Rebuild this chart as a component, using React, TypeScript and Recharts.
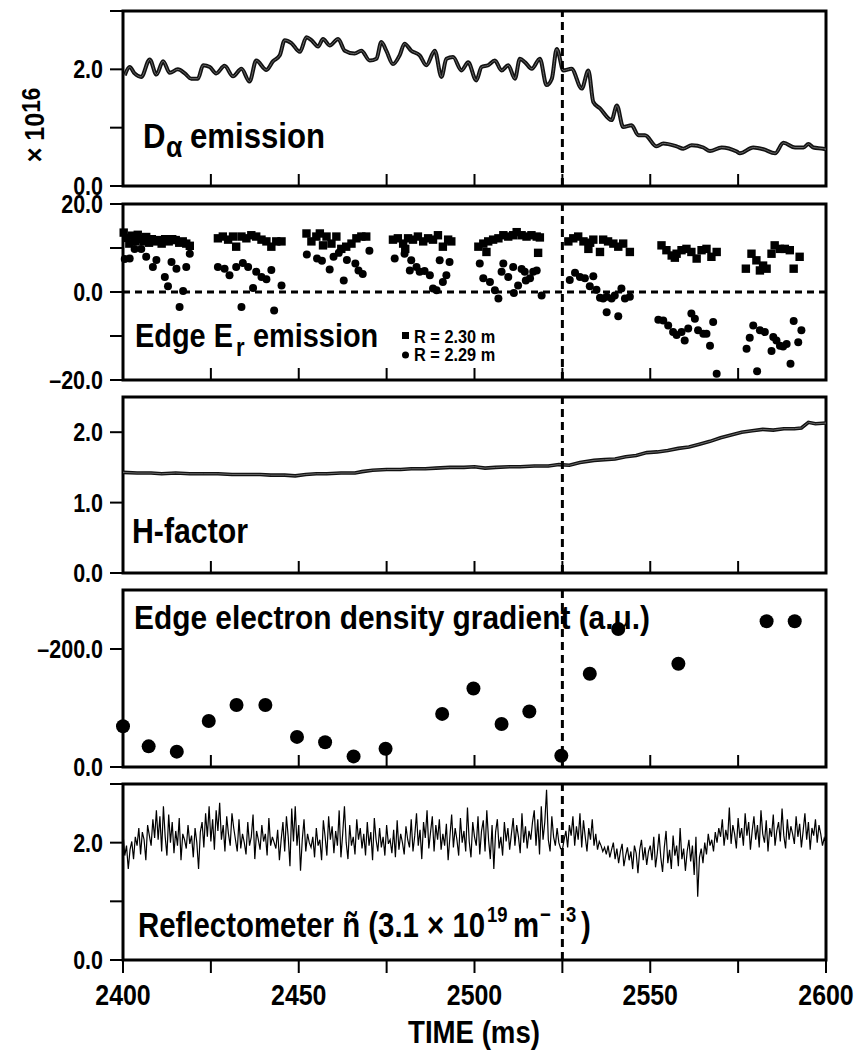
import React from 'react';
import {
  LineChart, Line, ScatterChart, Scatter, XAxis, YAxis, ReferenceLine, ReferenceArea,
} from 'recharts';

const FONT = "'Liberation Sans', Arial, sans-serif";
const CHART_W = 859;
const PAD = 16;
const PLOT_LEFT = 123;
const PLOT_RIGHT = 826;

const X_DOMAIN: [number, number] = [2400, 2600];
const X_INNER_TICKS = [2425, 2450, 2475, 2500, 2525, 2550, 2575];
const X_BOTTOM_TICKS = [2400, 2425, 2450, 2475, 2500, 2525, 2550, 2575, 2600];
const X_LABELLED = [2400, 2450, 2500, 2550, 2600];
const TRANSITION_TIME = 2525;

// D-alpha emission (x 1e16)
const DA_TIME = [
  2400.5, 2401.9, 2403.3, 2405.2, 2407.6, 2409.5, 2411.4, 2413.3, 2415.6, 2417.6,
  2419.4, 2421.3, 2422.8, 2424.7, 2426.5, 2428.9, 2431.3, 2433.7, 2436.0, 2437.9,
  2440.8, 2442.7, 2444.6, 2446.0, 2447.9, 2450.3, 2452.2, 2453.6, 2455.5, 2456.9,
  2458.8, 2461.2, 2463.1, 2465.9, 2467.8, 2470.2, 2472.1, 2473.5, 2474.9, 2476.8,
  2478.7, 2480.1, 2482.0, 2484.4, 2486.3, 2488.7, 2490.6, 2492.0, 2493.9, 2496.3,
  2498.2, 2500.5, 2502.0, 2503.9, 2505.8, 2507.7, 2509.6, 2511.5, 2512.9, 2514.4,
  2516.3, 2518.6, 2520.5, 2522.0, 2523.4, 2525.3, 2527.6, 2530.5, 2532.4, 2533.8,
  2535.7, 2539.0, 2540.5, 2542.3, 2544.7, 2546.6, 2548.5, 2551.8, 2553.7, 2557.5,
  2559.4, 2561.8, 2565.1, 2567.0, 2570.3, 2574.6, 2575.5, 2579.3, 2582.2, 2585.5,
  2587.9, 2591.2, 2593.6, 2595.0, 2596.4, 2599.2, 2600.0,
];
const DA_VALUE = [
  1.90, 2.04, 1.93, 1.87, 2.17, 1.91, 2.14, 1.94, 2.00, 1.93,
  1.84, 1.84, 2.07, 2.04, 1.93, 2.06, 1.88, 2.01, 1.79, 2.15,
  1.99, 2.14, 2.24, 2.50, 2.45, 2.30, 2.55, 2.50, 2.39, 2.52,
  2.41, 2.52, 2.32, 2.27, 2.32, 2.15, 2.18, 2.47, 2.32, 2.09,
  2.24, 2.44, 2.32, 2.24, 2.07, 2.32, 1.87, 2.18, 2.21, 1.98,
  2.12, 1.81, 2.04, 2.07, 2.15, 1.98, 2.07, 1.84, 2.18, 2.12,
  2.01, 2.18, 1.73, 1.84, 2.35, 1.98, 2.01, 1.67, 1.98, 1.44,
  1.33, 1.13, 1.38, 1.01, 1.04, 0.87, 0.87, 0.68, 0.73, 0.68,
  0.64, 0.70, 0.66, 0.60, 0.66, 0.59, 0.56, 0.66, 0.63, 0.56,
  0.74, 0.66, 0.66, 0.72, 0.66, 0.64, 0.63,
];

// Edge Er, R = 2.30 m (squares)
const ER_SQ_TIME = [
  2400.2, 2401.0, 2401.8, 2402.6, 2403.4, 2404.2, 2405.0, 2405.8, 2406.6, 2407.4, 2408.2,
  2409.0, 2410.0, 2411.0, 2412.0, 2413.0, 2414.0, 2415.0, 2416.0, 2417.0, 2418.0, 2419.0,
  2427.0, 2428.4, 2429.9, 2431.3, 2432.2, 2433.7, 2435.1, 2436.5, 2437.9, 2439.4, 2440.8,
  2442.2, 2443.6, 2445.1,
  2452.2, 2453.6, 2455.0, 2456.0, 2456.9, 2457.9, 2459.3, 2460.7, 2462.1, 2463.5, 2465.0,
  2466.4, 2467.8, 2469.2,
  2476.8, 2478.2, 2479.7, 2480.3, 2481.1, 2482.5, 2483.9, 2485.4, 2486.8, 2488.2, 2489.6,
  2491.0, 2492.5, 2493.4,
  2501.1, 2502.5, 2503.4, 2503.9, 2505.3, 2506.8, 2508.2, 2509.6, 2511.0, 2512.0, 2513.4,
  2514.8, 2516.2, 2517.7, 2518.1, 2518.6,
  2526.7, 2528.1, 2529.5, 2531.0, 2532.4, 2532.9, 2533.8, 2535.7, 2536.6, 2538.0, 2539.5,
  2540.9, 2542.3, 2544.2,
  2553.2, 2554.6, 2556.1, 2557.0, 2557.5, 2558.9, 2560.3, 2561.7, 2563.2, 2564.6, 2566.0,
  2567.4, 2568.9,
  2577.2, 2578.8, 2580.2, 2581.2, 2582.1, 2583.1, 2584.5, 2585.4, 2586.9, 2588.3, 2589.7,
  2590.8, 2592.5,
];
const ER_SQ_VALUE = [
  13.5, 12.3, 11.0, 12.8, 11.5, 13.0, 12.0, 11.5, 12.5, 11.2, 12.0,
  11.5, 11.8, 11.0, 12.0, 11.5, 12.0, 11.8, 11.2, 11.5, 11.0, 10.5,
  12.2, 12.6, 11.9, 12.6, 10.3, 12.6, 12.2, 12.9, 12.6, 11.9, 11.5,
  10.3, 11.5, 11.5,
  13.3, 11.5, 12.6, 13.3, 10.6, 12.6, 11.0, 12.6, 9.8, 10.3, 11.0,
  12.2, 12.6, 12.6,
  11.9, 12.2, 11.0, 9.8, 12.2, 11.9, 12.6, 11.5, 12.2, 11.9, 12.9,
  10.3, 11.9, 11.5,
  10.3, 11.0, 9.1, 11.5, 11.9, 12.2, 12.9, 12.6, 12.9, 13.6, 12.9,
  12.6, 12.9, 12.6, 8.9, 12.4,
  11.5, 12.2, 12.6, 11.5, 9.8, 11.2, 11.9, 9.1, 11.9, 11.5, 11.0,
  10.3, 11.0, 9.1,
  10.6, 9.5, 8.3, 7.8, 8.7, 9.5, 9.8, 9.1, 7.6, 9.5, 9.8,
  8.0, 9.1,
  5.3, 8.7, 7.2, 4.9, 6.0, 5.3, 8.7, 10.6, 9.8, 9.8, 9.5,
  5.3, 8.0,
];

// Edge Er, R = 2.29 m (circles)
const ER_CI_TIME = [
  2400.5, 2401.9, 2403.3, 2405.2, 2406.6, 2408.5, 2409.5, 2411.9, 2412.8, 2413.8, 2415.2,
  2416.1, 2417.1, 2418.0, 2419.0,
  2427.0, 2428.9, 2430.3, 2432.2, 2433.7, 2434.1, 2435.6, 2437.0, 2437.9, 2439.4, 2440.8,
  2442.2, 2443.0, 2445.1,
  2452.3, 2455.2, 2456.6, 2458.8, 2459.9, 2461.4, 2462.8, 2463.7, 2466.1, 2467.0, 2468.2,
  2470.1,
  2477.3, 2480.1, 2481.6, 2482.0, 2483.5, 2484.4, 2485.8, 2487.3, 2488.2, 2489.2, 2490.1,
  2491.0, 2492.0, 2492.9,
  2501.5, 2502.5, 2504.4, 2505.8, 2506.8, 2507.7, 2508.2, 2509.6, 2511.0, 2511.2, 2512.4,
  2513.4, 2514.3, 2514.6, 2515.8, 2516.7, 2517.7, 2519.1,
  2527.1, 2528.6, 2530.0, 2531.4, 2532.8, 2533.8, 2534.7, 2535.7, 2536.6, 2537.6, 2539.0,
  2539.9, 2541.8, 2542.8, 2544.2, 2537.6, 2540.9,
  2552.3, 2553.7, 2555.1, 2556.5, 2557.5, 2558.9, 2559.8, 2560.8, 2561.7, 2562.7, 2563.6,
  2565.1, 2566.0, 2567.0, 2567.9, 2568.9,
  2577.4, 2578.3, 2579.3, 2580.4, 2581.2, 2582.6, 2584.5, 2585.0, 2585.9, 2586.9, 2587.8,
  2588.8, 2589.9, 2590.8, 2592.1, 2593.0,
];
const ER_CI_VALUE = [
  7.5, 7.6, 9.8, 9.8, 8.0, 5.7, 7.3, 3.4, 1.3, 6.8, 5.3,
  -3.4, 0.2, 5.7, 8.7,
  5.7, 5.3, 3.8, 5.7, -3.4, 6.6, 5.7, 0.9, 4.6, 3.4, 2.9,
  5.0, -4.2, 1.5,
  8.5, 7.6, 7.1, 5.1, 8.0, 8.9, 2.6, 7.3, 6.5, 4.9, 4.1,
  9.4,
  7.6, 8.7, 4.9, 7.2, 5.7, 4.6, 4.8, 3.8, 0.8, 0.4, 7.2,
  2.3, 3.8, 6.8,
  6.5, 3.1, 2.3, 0.4, -1.5, 4.6, 6.5, 3.4, 5.7, -0.2, 1.5,
  5.2, 4.6, 2.6, 3.1, 4.6, 4.9, -0.8,
  2.7, 4.4, 3.4, 3.1, 1.3, 3.6, 0.5, -1.3, -1.5, -1.1, -1.5,
  -0.8, 0.8, -1.5, -1.1, -4.6, -5.5,
  -6.3, -6.5, -7.6, -9.1, -9.8, -9.1, -11.0, -8.3, -4.9, -6.1, -8.7,
  -9.5, -9.5, -12.2, -6.8, -18.6,
  -12.9, -10.4, -7.6, -18.0, -8.7, -9.1, -13.4, -10.2, -11.0, -12.2, -12.4,
  -11.8, -16.3, -6.6, -11.4, -8.7,
];

// H-factor
const H_TIME = [
  2400, 2404, 2408, 2411, 2415, 2419, 2423, 2427, 2431, 2435, 2439, 2442, 2446, 2449,
  2452, 2455, 2458, 2462, 2466, 2468, 2471, 2475, 2479, 2482, 2486, 2489, 2493, 2497,
  2500, 2503, 2506, 2510, 2513, 2517, 2521, 2524, 2527, 2530, 2534, 2537, 2540, 2543,
  2546, 2549, 2552, 2555, 2558, 2561, 2564, 2567, 2570, 2573, 2576, 2579, 2582, 2585,
  2588, 2591, 2593, 2595, 2597, 2600,
];
const H_VALUE = [
  1.43, 1.42, 1.42, 1.41, 1.42, 1.41, 1.41, 1.41, 1.40, 1.40, 1.40, 1.39, 1.39, 1.38,
  1.40, 1.41, 1.41, 1.42, 1.42, 1.44, 1.46, 1.47, 1.47, 1.48, 1.48, 1.49, 1.50, 1.50,
  1.51, 1.49, 1.50, 1.51, 1.51, 1.52, 1.52, 1.54, 1.53, 1.57, 1.60, 1.61, 1.62, 1.65,
  1.67, 1.71, 1.72, 1.74, 1.77, 1.79, 1.83, 1.87, 1.92, 1.96, 2.00, 2.02, 2.04, 2.03,
  2.05, 2.05, 2.06, 2.14, 2.12, 2.13,
];

// Edge electron density gradient (a.u.)
const GRAD_TIME = [
  2400.0, 2407.3, 2415.3, 2424.4, 2432.3, 2440.5, 2449.5, 2457.5, 2465.6, 2474.7,
  2490.8, 2499.7, 2507.7, 2515.6, 2524.7, 2532.8, 2540.9, 2558.0, 2583.1, 2591.1,
];
const GRAD_VALUE = [
  -69, -35, -26, -78, -105, -105, -51, -42, -18, -31,
  -90, -133, -73, -94, -19, -158, -234, -175, -247, -247,
];

// Reflectometer n~ (3.1e19 m^-3), sampled every 0.5 ms from 2400 ms
const REFL_START = 2400;
const REFL_STEP = 0.5;
const REFL_VALUE = [
  2.15, 1.78, 1.95, 1.55, 1.88, 2.02, 1.72, 2.10, 1.95, 2.25, 1.80, 2.18, 2.05, 1.70, 2.30, 2.12, 1.95, 2.40, 2.08, 2.55,
  2.05, 2.45, 1.85, 2.62, 2.10, 1.78, 2.48, 2.00, 2.35, 1.82, 2.20, 1.95, 2.42, 1.70, 2.15, 2.05, 1.90, 2.30, 1.98, 2.12,
  1.75, 2.25, 2.00, 1.55, 2.18, 2.35, 1.92, 2.50, 2.10, 2.62, 2.02, 2.40, 1.88, 2.55, 2.20, 2.68, 2.05, 2.30, 1.85, 2.45,
  2.15, 1.95, 2.50, 2.25, 2.05, 1.85, 2.40, 1.90, 2.15, 2.00, 1.80, 2.35, 1.95, 2.10, 2.48, 1.72, 2.20, 2.05, 1.88, 2.30,
  2.02, 2.15, 1.78, 2.42, 1.95, 2.10, 2.00, 1.90, 2.22, 1.70, 2.05, 2.35, 1.85, 2.45, 2.10, 1.60, 2.58, 2.02, 2.62, 1.95,
  2.30, 1.52, 2.05, 2.40, 1.85, 2.15, 2.00, 1.92, 2.10, 1.75, 2.25, 1.95, 2.05, 1.70, 2.38, 2.10, 1.78, 2.45, 2.05, 2.28,
  1.82, 2.20, 1.95, 2.55, 1.75, 2.15, 2.62, 2.00, 1.72, 2.30, 1.95, 2.10, 1.80, 2.40, 2.05, 2.25, 1.90, 2.15, 1.78, 2.35,
  1.95, 2.18, 1.70, 2.42, 2.05, 1.85, 2.25, 1.92, 2.10, 1.78, 2.30, 1.98, 2.05, 1.82, 2.22, 1.75, 2.38, 1.88, 2.15, 2.00,
  1.80, 2.28, 2.05, 1.92, 2.40, 1.85, 2.12, 2.50, 1.95, 2.22, 1.72, 2.35, 2.08, 2.55, 1.90, 2.18, 2.45, 1.85, 2.30, 2.05,
  2.40, 1.88, 2.15, 1.95, 2.32, 1.70, 2.10, 2.48, 1.92, 2.25, 2.05, 1.78, 2.42, 2.00, 2.20, 1.85, 2.60, 2.02, 1.75, 2.35,
  2.10, 1.95, 2.45, 1.80, 2.20, 2.38, 1.85, 2.55, 2.05, 1.72, 2.30, 1.55, 2.18, 2.40, 1.90, 2.10, 1.78, 2.35, 2.02, 2.25,
  1.88, 2.15, 2.42, 1.95, 2.30, 2.10, 1.82, 2.50, 2.00, 2.28, 1.90, 2.20, 2.05, 2.35, 2.55, 1.95, 2.40, 1.80, 2.62, 2.05,
  2.35, 2.90, 2.05, 1.85, 2.45, 2.10, 1.95, 2.25, 2.00, 1.90, 1.88, 2.05, 2.20, 1.92, 2.30, 2.12, 2.45, 1.95, 2.28, 2.05,
  2.50, 1.92, 2.38, 2.10, 1.85, 2.25, 2.05, 2.40, 1.95, 2.15, 1.88, 2.02, 1.95, 1.85, 1.92, 1.80, 1.95, 1.75, 1.88, 2.00,
  1.72, 1.90, 1.65, 1.85, 1.98, 1.60, 1.78, 1.92, 1.70, 1.85, 1.55, 1.95, 1.82, 1.48, 1.88, 2.05, 1.70, 1.92, 1.62, 1.85,
  1.95, 1.70, 2.10, 1.58, 1.82, 2.15, 1.75, 1.50, 1.92, 2.20, 1.65, 1.88, 1.55, 2.12, 1.78, 1.95, 1.60, 2.25, 1.72, 1.90,
  1.52, 1.85, 2.05, 1.68, 1.95, 1.45, 2.10, 1.08, 1.75, 1.90, 1.65, 2.00, 1.80, 2.15, 1.95, 2.05, 1.85, 2.18, 2.00, 2.25,
  2.10, 2.40, 1.95, 2.22, 2.05, 2.60, 1.98, 2.30, 2.15, 1.90, 2.42, 2.08, 2.25, 1.95, 2.50, 2.12, 2.35, 1.88, 2.20, 2.45,
  2.05, 2.30, 1.92, 2.55, 2.15, 2.00, 2.38, 1.85, 2.25, 2.10, 2.48, 1.95, 2.20, 2.35, 2.02, 2.58, 2.12, 1.90, 2.40, 2.05,
  2.28, 2.15, 1.98, 2.45, 2.10, 2.32, 1.92, 2.20, 2.50, 2.05, 2.35, 1.88, 2.25, 2.12, 2.40, 2.00, 2.30, 2.15, 1.95, 2.08,
  2.00,
];

const zip = (ts: number[], vs: number[]) => ts.map((t, i) => ({ t, v: vs[i] }));
const daData = zip(DA_TIME, DA_VALUE);
const erSqData = zip(ER_SQ_TIME, ER_SQ_VALUE);
const erCiData = zip(ER_CI_TIME, ER_CI_VALUE);
const hData = zip(H_TIME, H_VALUE);
const gradData = zip(GRAD_TIME, GRAD_VALUE);
const reflData = REFL_VALUE.map((v, i) => ({ t: REFL_START + i * REFL_STEP, v }));

const textStyle = { fontFamily: FONT, fontWeight: 700, fill: '#000' } as const;

// condensed bold label (the original uses a narrow face)
function Narrow({ x, y, size, anchor, children }: { x: number; y: number; size: number; anchor: 'start' | 'middle' | 'end'; children: React.ReactNode }) {
  return (
    <text transform={`translate(${x} ${y}) scale(0.86 1)`} x={0} y={0} fontSize={size} textAnchor={anchor} style={textStyle}>
      {children}
    </text>
  );
}

// one condensed text made of pieces placed at page positions (for sub/superscripts)
type Piece = { x: number; y: number; size: number; s: string };
function Composite({ pieces, squeeze }: { pieces: Piece[]; squeeze: number }) {
  return (
    <text transform={`scale(${squeeze} 1)`} style={textStyle}>
      {pieces.map((p, i) => (
        <tspan key={i} x={p.x / squeeze} y={p.y} fontSize={p.size}>{p.s}</tspan>
      ))}
    </text>
  );
}

// y ticks: outward tick line plus label
const yTick = (labels: Record<string, string>) => (props: any) => {
  const { y, payload } = props;
  const label = labels[String(payload.value)];
  return (
    <g>
      <line x1={PLOT_LEFT - 13} x2={PLOT_LEFT} y1={y} y2={y} stroke="#000" strokeWidth={2} />
      {label ? <Narrow x={PLOT_LEFT - 20} y={y + 9} size={25} anchor="end">{label}</Narrow> : null}
    </g>
  );
};

// inner x ticks: short marks pointing up from the bottom frame
const innerTick = (plotBottom: number) => (props: any) => (
  <line x1={props.x} x2={props.x} y1={plotBottom} y2={plotBottom - 12} stroke="#000" strokeWidth={2} />
);

// bottom panel x ticks: outward marks and labels every 50 ms
const bottomTick = (plotBottom: number) => (props: any) => {
  const { x, payload } = props;
  return (
    <g>
      <line x1={x} x2={x} y1={plotBottom} y2={plotBottom + 13} stroke="#000" strokeWidth={2} />
      {X_LABELLED.includes(payload.value) ? (
        <Narrow x={x} y={plotBottom + 45} size={29} anchor="middle">{String(payload.value)}</Narrow>
      ) : null}
    </g>
  );
};

function yAxis(domain: [number, number], ticks: number[], labels: Record<string, string>, reversed = false) {
  return (
    <YAxis
      key="y"
      type="number"
      dataKey="v"
      domain={domain}
      ticks={ticks}
      interval={0}
      reversed={reversed}
      width={PLOT_LEFT}
      axisLine={false}
      tickLine={false}
      tick={yTick(labels)}
    />
  );
}

function innerXAxis(plotH: number) {
  return (
    <XAxis
      key="x"
      type="number"
      dataKey="t"
      domain={X_DOMAIN}
      ticks={X_INNER_TICKS}
      interval={0}
      height={PAD}
      axisLine={false}
      tickLine={false}
      tick={innerTick(PAD + plotH)}
    />
  );
}

function frame(y: [number, number]) {
  return [
    <ReferenceLine key="lh" x={TRANSITION_TIME} stroke="#000" strokeWidth={3} strokeDasharray="8 5" />,
    <ReferenceArea key="box" x1={X_DOMAIN[0]} x2={X_DOMAIN[1]} y1={y[0]} y2={y[1]} fill="none" fillOpacity={0} stroke="#000" strokeWidth={3} />,
  ];
}

// thick trace drawn as a dark outline with a grey core, like the printed original
function thickTrace(width: number, type: 'monotone' | 'linear') {
  return [
    <Line key="outer" type={type} dataKey="v" stroke="#111" strokeWidth={width} dot={false} activeDot={false} isAnimationActive={false} />,
    <Line key="core" type={type} dataKey="v" stroke="#6a6a6a" strokeWidth={1} dot={false} activeDot={false} isAnimationActive={false} />,
  ];
}

const squareShape = (p: any) => <rect x={p.cx - 4.2} y={p.cy - 4.2} width={8.4} height={8.4} fill="#000" />;
const circleShape = (p: any) => <circle cx={p.cx} cy={p.cy} r={4} fill="#000" />;
const bigDot = (p: any) => <circle cx={p.cx} cy={p.cy} r={7} fill="#000" />;

function Holder({ top, children }: { top: number; children: React.ReactNode }) {
  return <div style={{ position: 'absolute', left: 0, top: top - PAD }}>{children}</div>;
}

const margin = { top: PAD, right: CHART_W - PLOT_RIGHT, bottom: 0, left: 0 };

export default function App() {
  return (
    <div style={{ position: 'absolute', left: 0, top: 0, width: 859, height: 1053, background: '#fff', overflow: 'hidden' }}>
      {/* D-alpha */}
      <Holder top={11}>
        <LineChart width={CHART_W} height={175 + 2 * PAD} data={daData} margin={margin}>
          {innerXAxis(175)}
          {yAxis([0, 3], [0, 1, 2, 3], { '0': '0.0', '2': '2.0' })}
          {thickTrace(4, 'monotone')}
          {frame([0, 3])}
        </LineChart>
      </Holder>

      {/* Edge Er */}
      <Holder top={204}>
        <ScatterChart width={CHART_W} height={176 + 2 * PAD} margin={margin}>
          {innerXAxis(176)}
          {yAxis([-20, 20], [-20, -10, 0, 10, 20], { '-20': '\u201320.0', '0': '0.0', '20': '20.0' })}
          <ReferenceLine y={0} stroke="#000" strokeWidth={3} strokeDasharray="7 5" />
          <Scatter data={erSqData} shape={squareShape} isAnimationActive={false} />
          <Scatter data={erCiData} shape={circleShape} isAnimationActive={false} />
          {frame([-20, 20])}
        </ScatterChart>
      </Holder>

      {/* H-factor */}
      <Holder top={397}>
        <LineChart width={CHART_W} height={176 + 2 * PAD} data={hData} margin={margin}>
          {innerXAxis(176)}
          {yAxis([0, 2.5], [0, 1, 2], { '0': '0.0', '1': '1.0', '2': '2.0' })}
          {thickTrace(3.6, 'linear')}
          {frame([0, 2.5])}
        </LineChart>
      </Holder>

      {/* density gradient */}
      <Holder top={590}>
        <ScatterChart width={CHART_W} height={177 + 2 * PAD} margin={margin}>
          {innerXAxis(177)}
          {yAxis([-300, 0], [-200, 0], { '-200': '\u2013200.0', '0': '0.0' }, true)}
          <Scatter data={gradData} shape={bigDot} isAnimationActive={false} />
          {frame([-300, 0])}
        </ScatterChart>
      </Holder>

      {/* reflectometer */}
      <Holder top={784}>
        <LineChart width={CHART_W} height={176 + PAD + 64} data={reflData} margin={margin}>
          <XAxis
            type="number"
            dataKey="t"
            domain={X_DOMAIN}
            ticks={X_BOTTOM_TICKS}
            interval={0}
            height={64}
            axisLine={false}
            tickLine={false}
            tick={bottomTick(PAD + 176)}
          />
          {yAxis([0, 3], [0, 1, 2, 3], { '0': '0.0', '2': '2.0' })}
          <Line type="linear" dataKey="v" stroke="#000" strokeWidth={1.2} dot={false} activeDot={false} isAnimationActive={false} />
          {frame([0, 3])}
        </LineChart>
      </Holder>

      {/* panel titles and annotations */}
      <svg width={859} height={1053} style={{ position: 'absolute', left: 0, top: 0, pointerEvents: 'none' }}>
        <text transform="rotate(-90, 34, 125) translate(34 135) scale(0.9 1)" x={0} y={0} textAnchor="middle" fontSize={28} style={textStyle}>
          {'\u00d7 10'}
          <tspan dy={-4} fontSize={25}>16</tspan>
        </text>

        <Composite squeeze={0.89} pieces={[
          { x: 143, y: 148, size: 35, s: 'D' },
          { x: 166, y: 157, size: 30, s: '\u03b1' },
          { x: 190, y: 148, size: 35, s: 'emission' },
        ]} />

        <Composite squeeze={0.85} pieces={[
          { x: 135, y: 347, size: 34, s: 'Edge E' },
          { x: 236, y: 356, size: 26, s: 'r' },
          { x: 253, y: 347, size: 34, s: 'emission' },
        ]} />

        <rect x={402} y={332} width={7} height={7} fill="#000" />
        <circle cx={405.5} cy={355} r={3.5} fill="#000" />
        <Composite squeeze={0.86} pieces={[
          { x: 414, y: 343, size: 19, s: 'R = 2.30 m' },
          { x: 414, y: 361, size: 19, s: 'R = 2.29 m' },
        ]} />

        <text x={132} y={543} fontSize={35} textLength={116} lengthAdjust="spacingAndGlyphs" style={textStyle}>H-factor</text>

        <text x={134} y={629} fontSize={34} textLength={516} lengthAdjust="spacingAndGlyphs" style={textStyle}>
          Edge electron density gradient (a.u.)
        </text>

        <Composite squeeze={0.84} pieces={[
          { x: 138, y: 937, size: 35, s: 'Reflectometer \u00f1 (3.1 \u00d7 10' },
          { x: 487, y: 922, size: 22, s: '19' },
          { x: 513, y: 937, size: 35, s: 'm' },
          { x: 540, y: 922, size: 22, s: '\u2212' },
          { x: 566, y: 922, size: 22, s: '3' },
          { x: 581, y: 937, size: 35, s: ')' },
        ]} />

        <text x={474} y={1043} fontSize={32} textAnchor="middle" textLength={132} lengthAdjust="spacingAndGlyphs" style={textStyle}>
          TIME (ms)
        </text>
      </svg>
    </div>
  );
}
